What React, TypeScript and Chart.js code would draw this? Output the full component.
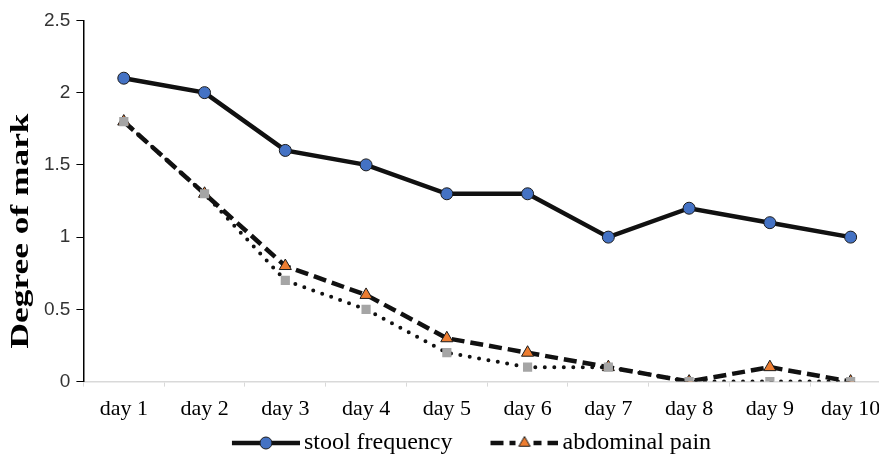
import React, { useEffect, useRef } from "react";
import { Chart, registerables } from "chart.js";

Chart.register(...registerables);

const categories = ["day 1", "day 2", "day 3", "day 4", "day 5", "day 6", "day 7", "day 8", "day 9", "day 10"];
const stoolFrequency = [2.1, 2.0, 1.6, 1.5, 1.3, 1.3, 1.0, 1.2, 1.1, 1.0];
const abdominalPain = [1.8, 1.3, 0.8, 0.6, 0.3, 0.2, 0.1, 0, 0.1, 0];
const thirdSymptom = [1.8, 1.3, 0.7, 0.5, 0.2, 0.1, 0.1, 0, 0, 0];
const seriesLabels = ["stool frequency", "abdominal pain", "other symptom"];
const yTicks = [0, 0.5, 1, 1.5, 2, 2.5];
const yTitle = "Degree of mark";

const LINE = "#111111";
const BLUE = "#4472c4";
const ORANGE = "#ed7d31";
const GREY = "#a5a5a5";

const SYM = 68; // drawn symbol length
const LEAD = 30; // blank space before each symbol
const BOX = SYM + LEAD;

function makeSymbol(kind: "circle" | "triangle"): HTMLCanvasElement {
  const c = document.createElement("canvas");
  c.width = BOX + 16;
  c.height = 18;
  const ctx = c.getContext("2d")!;
  const cy = 9;
  const x0 = c.width - SYM;
  ctx.strokeStyle = LINE;
  ctx.lineWidth = 4.5;
  if (kind === "triangle") ctx.setLineDash([13, 6]);
  ctx.beginPath();
  ctx.moveTo(x0, cy);
  ctx.lineTo(x0 + SYM, cy);
  ctx.stroke();
  ctx.setLineDash([]);
  const cx = x0 + SYM / 2;
  ctx.lineWidth = 1;
  ctx.strokeStyle = "#1a1a1a";
  if (kind === "circle") {
    ctx.fillStyle = BLUE;
    ctx.beginPath();
    ctx.arc(cx, cy, 6, 0, Math.PI * 2);
    ctx.fill();
    ctx.stroke();
  } else {
    ctx.fillStyle = "#fff";
    ctx.fillRect(cx - 9, cy - 8, 18, 16);
    ctx.fillStyle = ORANGE;
    const r = 6.5;
    ctx.beginPath();
    ctx.moveTo(cx, cy - r);
    ctx.lineTo(cx + r * 0.866, cy + r * 0.5);
    ctx.lineTo(cx - r * 0.866, cy + r * 0.5);
    ctx.closePath();
    ctx.fill();
    ctx.stroke();
  }
  return c;
}

const yTitlePlugin = {
  id: "yTitleCentered",
  afterDraw(chart: any) {
    const ctx = chart.ctx;
    ctx.save();
    ctx.translate(chart.chartArea.left - 62, chart.height / 2 - 3);
    ctx.rotate(-Math.PI / 2);
    ctx.scale(1.36, 1);
    ctx.font = "bold 26px 'Liberation Serif', serif";
    ctx.textAlign = "center";
    ctx.textBaseline = "middle";
    ctx.fillStyle = "#000";
    ctx.fillText(yTitle, 0, 0);
    ctx.restore();
  },
};

export default function App() {
  const ref = useRef<HTMLCanvasElement | null>(null);

  useEffect(() => {
    document.body.style.overflow = "hidden";
    const symbols = [makeSymbol("circle"), makeSymbol("triangle")];
    const chart = new Chart(ref.current!, {
      type: "line",
      plugins: [yTitlePlugin],
      data: {
        labels: categories,
        datasets: [
          {
            label: seriesLabels[0],
            data: stoolFrequency,
            borderColor: LINE,
            borderWidth: 4.5,
            pointStyle: "circle",
            pointRadius: 6,
            pointBackgroundColor: BLUE,
            pointBorderColor: "#1a1a1a",
            pointBorderWidth: 1,
            tension: 0,
            order: 2,
          },
          {
            label: seriesLabels[1],
            data: abdominalPain,
            borderColor: LINE,
            borderWidth: 4.5,
            borderDash: [13, 6],
            pointStyle: "triangle",
            pointRadius: 7,
            pointBackgroundColor: ORANGE,
            pointBorderColor: "#1a1a1a",
            pointBorderWidth: 1,
            tension: 0,
            order: 1,
          },
          {
            label: seriesLabels[2],
            data: thirdSymptom,
            borderColor: LINE,
            borderWidth: 4,
            borderDash: [0, 9.5],
            borderCapStyle: "round",
            pointStyle: "rect",
            pointRadius: 6.5,
            pointBackgroundColor: GREY,
            pointBorderColor: GREY,
            pointBorderWidth: 0,
            tension: 0,
            order: 0,
          },
        ],
      },
      options: {
        animation: false,
        responsive: true,
        maintainAspectRatio: false,
        layout: { padding: { top: 7, right: 2, left: 0, bottom: 0 } },
        plugins: {
          tooltip: { enabled: false },
          legend: {
            position: "bottom",
            labels: {
              usePointStyle: true,
              pointStyleWidth: BOX,
              boxHeight: 18,
              padding: 0,
              color: "#000",
              font: { family: "'Liberation Serif', serif", size: 24, lineHeight: 1.05 },
              generateLabels: () =>
                [0, 1].map((i) => ({
                  text: seriesLabels[i],
                  pointStyle: symbols[i],
                  datasetIndex: i,
                  hidden: false,
                  fillStyle: "transparent",
                  strokeStyle: "transparent",
                  lineWidth: 0,
                  fontColor: "#000",
                })),
            },
          },
        },
        scales: {
          x: {
            type: "category",
            offset: true,
            border: { color: "#d9d9d9", width: 1.5 },
            grid: {
              display: true,
              drawOnChartArea: false,
              offset: true,
              color: "#d9d9d9",
              tickLength: 5,
            },
            ticks: {
              color: "#000",
              padding: 9,
              maxRotation: 0,
              font: { family: "'Liberation Serif', serif", size: 22 },
            },
          },
          y: {
            min: 0,
            max: 2.5,
            afterBuildTicks: (axis: any) => {
              axis.ticks = yTicks.map((v) => ({ value: v }));
            },
            afterFit: (axis: any) => {
              axis.width += 30;
            },
            border: { color: "#000", width: 1.5 },
            grid: { drawOnChartArea: false, color: "#000", tickLength: 7 },
            ticks: {
              color: "#333",
              padding: 6,
              font: { family: "'Liberation Sans', sans-serif", size: 19 },
              callback: (v: any) => String(v),
            },
            title: { display: false },
          },
        },
      },
    });
    return () => chart.destroy();
  }, []);

  return (
    <div style={{ width: 879, height: 448, overflow: "hidden" }}>
      <div style={{ width: 891, height: 462, position: "relative", marginTop: -5 }}>
        <canvas ref={ref} />
      </div>
    </div>
  );
}
